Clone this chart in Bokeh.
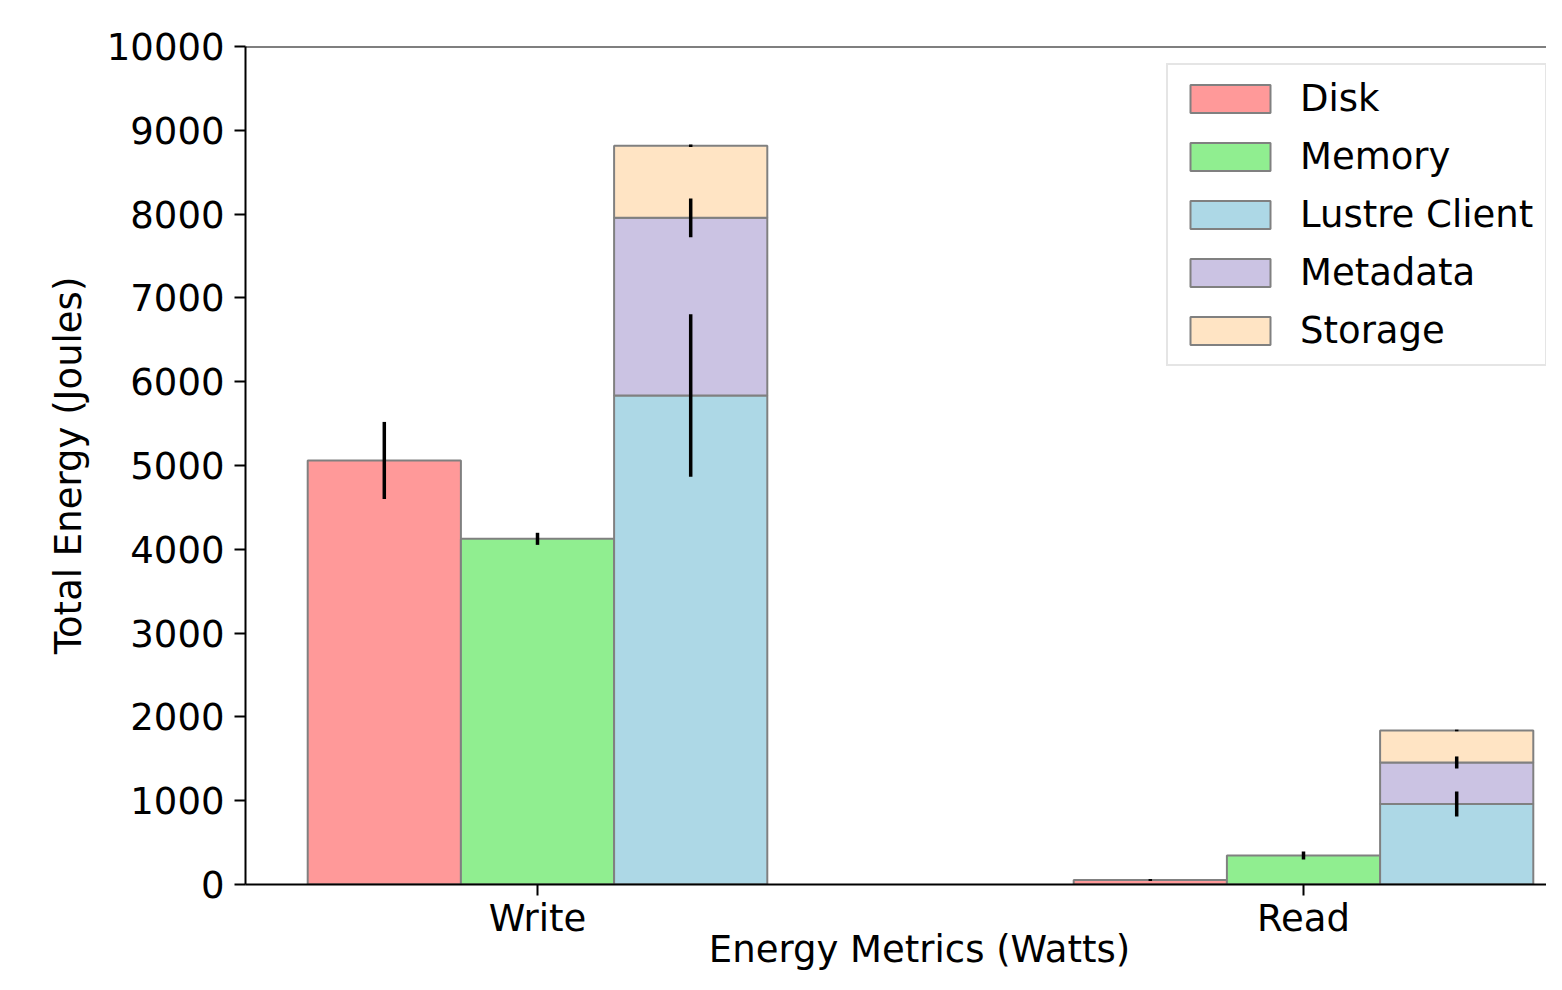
import numpy as np
from bokeh.plotting import figure
from bokeh.models import Range1d, FixedTicker, Span, Legend, LegendItem
from bokeh.embed import file_html
from bokeh.resources import INLINE

categories = ["Write", "Read"]
series_names = ["Disk", "Memory", "Lustre Client", "Metadata", "Storage"]
disk = [5060, 55]
disk_err = [460, 12]
memory = [4125, 346]
memory_err = [72, 48]
lustre = [5835, 960]
lustre_err = [970, 150]
metadata = [2120, 496]
metadata_err = [230, 72]
storage = [860, 382]
storage_err = [15, 10]
y_ticks = list(range(0, 10001, 1000))
x_label = "Energy Metrics (Watts)"
y_label = "Total Energy (Joules)"

colors = ["#FF9999", "#90EE90", "#ADD8E6", "#CBC3E3", "#FFE4C4"]
FONT = "DejaVu Sans"
FS = "37px"

x = np.arange(len(categories))
w = 0.2

W, H = 1546, 974
left_b, top_b, bottom_b = 245, 46, 90
px_per_unit = 766.0
x_start = -292.0 / px_per_unit
x_end = x_start + (W - left_b) / px_per_unit

p = figure(width=W, height=H, x_range=Range1d(x_start, x_end), y_range=Range1d(0, 10000),
           output_backend="svg", toolbar_location=None,
           min_border_left=left_b, min_border_top=top_b, min_border_right=0,
           min_border_bottom=bottom_b)
p.outline_line_color = None
p.xgrid.visible = False
p.ygrid.visible = False
p.background_fill_color = "white"
p.border_fill_color = "white"

edge = dict(line_color="#808080", line_width=2)

r_disk = p.vbar(x=x - w, top=disk, bottom=0, width=w, fill_color=colors[0], **edge)
r_mem = p.vbar(x=x, top=memory, bottom=0, width=w, fill_color=colors[1], **edge)
lus = np.array(lustre, dtype=float)
meta = np.array(metadata, dtype=float)
sto = np.array(storage, dtype=float)
r_lus = p.vbar(x=x + w, top=lus, bottom=0, width=w, fill_color=colors[2], **edge)
r_meta = p.vbar(x=x + w, top=lus + meta, bottom=lus, width=w, fill_color=colors[3], **edge)
r_sto = p.vbar(x=x + w, top=lus + meta + sto, bottom=lus + meta, width=w, fill_color=colors[4], **edge)

def errbar(xs, tops, errs):
    tops = np.array(tops, dtype=float)
    errs = np.array(errs, dtype=float)
    p.segment(x0=xs, y0=tops - errs, x1=xs, y1=tops + errs, line_color="black", line_width=3.5)

errbar(x - w, disk, disk_err)
errbar(x, memory, memory_err)
errbar(x + w, lus, lustre_err)
errbar(x + w, lus + meta, metadata_err)
errbar(x + w, lus + meta + sto, storage_err)

p.add_layout(Span(location=10000, dimension="width", line_color="black", line_width=2))

for ax in (p.xaxis[0], p.yaxis[0]):
    ax.axis_line_width = 2
    ax.axis_line_color = "black"
    ax.major_tick_line_width = 2
    ax.major_tick_line_color = "black"
    ax.major_tick_out = 11
    ax.major_tick_in = 0
    ax.minor_tick_line_color = None
    ax.major_label_text_font = FONT
    ax.major_label_text_font_size = FS
    ax.major_label_text_color = "black"
    ax.axis_label_text_font = FONT
    ax.axis_label_text_font_size = FS
    ax.axis_label_text_font_style = "normal"
    ax.axis_label_text_color = "black"

p.yaxis.ticker = FixedTicker(ticks=y_ticks)
p.yaxis.major_label_standoff = 10
p.yaxis.axis_label = y_label
p.yaxis.axis_label_standoff = 14
p.xaxis.ticker = FixedTicker(ticks=list(x))
p.xaxis.major_label_overrides = {int(i): c for i, c in zip(x, categories)}
p.xaxis.major_label_standoff = 1
# leading no-break spaces shift the centred label right, as in the wider original axes
p.xaxis.axis_label = "\u00a0\u00a0\u00a0\u00a0" + x_label
p.xaxis.axis_label_standoff = -15

renderers = [r_disk, r_mem, r_lus, r_meta, r_sto]
legend = Legend(items=[LegendItem(label=n, renderers=[r]) for n, r in zip(series_names, renderers)],
                location=(921, 518))
legend.label_text_font = FONT
legend.label_text_font_size = FS
legend.label_text_color = "black"
legend.glyph_width = 100
legend.glyph_height = 35
legend.label_standoff = 20
legend.spacing = 15
legend.padding = 12
legend.margin = 0
legend.border_line_color = "#cccccc"
legend.border_line_width = 2
legend.background_fill_color = "white"
legend.background_fill_alpha = 1.0
p.add_layout(legend)

open("out.html", "w").write(file_html(p, INLINE))
